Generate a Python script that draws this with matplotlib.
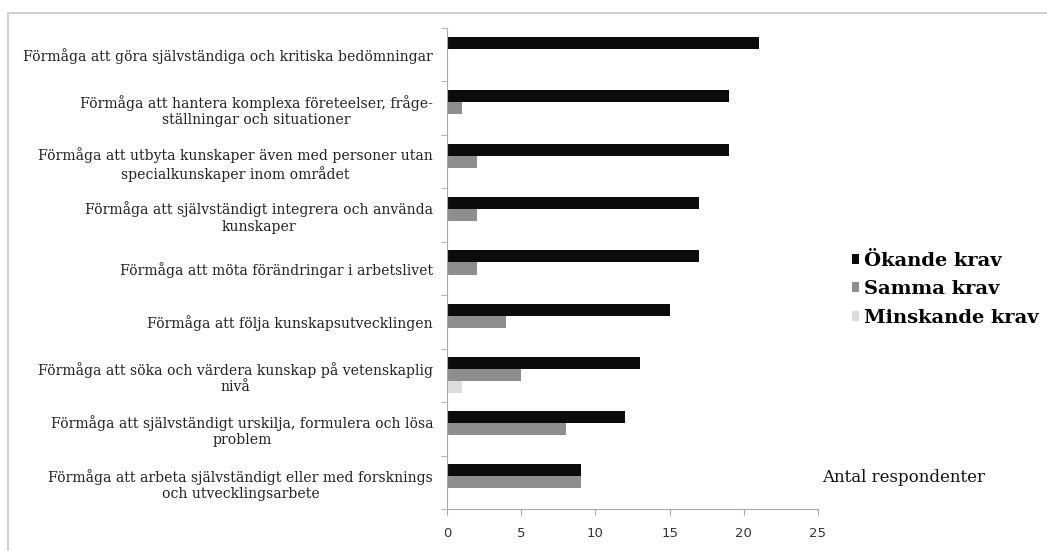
import numpy as np
import matplotlib.pyplot as plt
from matplotlib.patches import Rectangle

kategorier = [
    "Förmåga att göra självständiga och kritiska bedömningar",
    "Förmåga att hantera komplexa företeelser, fråge-\nställningar och situationer",
    "Förmåga att utbyta kunskaper även med personer utan\nspecialkunskaper inom området",
    "Förmåga att självständigt integrera och använda\nkunskaper",
    "Förmåga att möta förändringar i arbetslivet",
    "Förmåga att följa kunskapsutvecklingen",
    "Förmåga att söka och värdera kunskap på vetenskaplig\nnivå",
    "Förmåga att självständigt urskilja, formulera och lösa\nproblem",
    "Förmåga att arbeta självständigt eller med forsknings\noch utvecklingsarbete",
]
okande = [21, 19, 19, 17, 17, 15, 13, 12, 9]
samma = [0, 1, 2, 2, 2, 4, 5, 8, 9]
minskande = [0, 0, 0, 0, 0, 0, 1, 0, 0]
serie_namn = ["Ökande krav", "Samma krav", "Minskande krav"]
farger = ["#0b0b0b", "#8e8e8e", "#dcdcdc"]

fig = plt.figure(figsize=(10.47, 5.51), dpi=100)
# ram runt hela diagrammet
fig.patches.append(Rectangle((8 / 1047, -0.1), 1.1, 1 - 13 / 551 + 0.1, transform=fig.transFigure,
                             fill=False, edgecolor="#c8c8c8", linewidth=1.2))
ax = fig.add_axes([447 / 1047, 42 / 551, (818 - 447) / 1047, (509 - 28) / 551])

n = len(kategorier)
y = np.arange(n)[::-1].astype(float)
h = 0.225
for i, (vals, namn, f) in enumerate(zip([okande, samma, minskande], serie_namn, farger)):
    ax.barh(y + h - i * h, vals, height=h, color=f, label=namn)

ax.set_xlim(0, 25)
ax.set_ylim(-0.5, n - 0.5)
ax.set_xticks([0, 5, 10, 15, 20, 25])
ax.set_yticks(np.arange(n + 1) - 0.5, minor=True)
ax.set_yticks(y)
ax.set_yticklabels(kategorier, family="DejaVu Serif", fontsize=10.1, color="#222222",
                   ha="right", multialignment="center")
ax.tick_params(axis="y", which="major", length=0, pad=10)
ax.tick_params(axis="y", which="minor", length=4, color="#aaaaaa", direction="out")
ax.tick_params(axis="x", length=4, color="#aaaaaa", labelsize=9.5, labelcolor="#333333", pad=9)
for s in ["top", "right"]:
    ax.spines[s].set_visible(False)
for s in ["left", "bottom"]:
    ax.spines[s].set_color("#aaaaaa")

fig.legend(loc="upper left", bbox_to_anchor=(838 / 1047, 1 - 238 / 551), frameon=False,
           prop={"family": "DejaVu Serif", "weight": "bold", "size": 14},
           handlelength=0.4, handleheight=0.4, handletextpad=0.25, labelspacing=0.55,
           borderpad=0.2)
fig.text(822 / 1047, 1 - 478 / 551, "Antal respondenter", family="DejaVu Serif", fontsize=12,
         va="center", color="#111111")

fig.savefig("out.png", dpi=100)
